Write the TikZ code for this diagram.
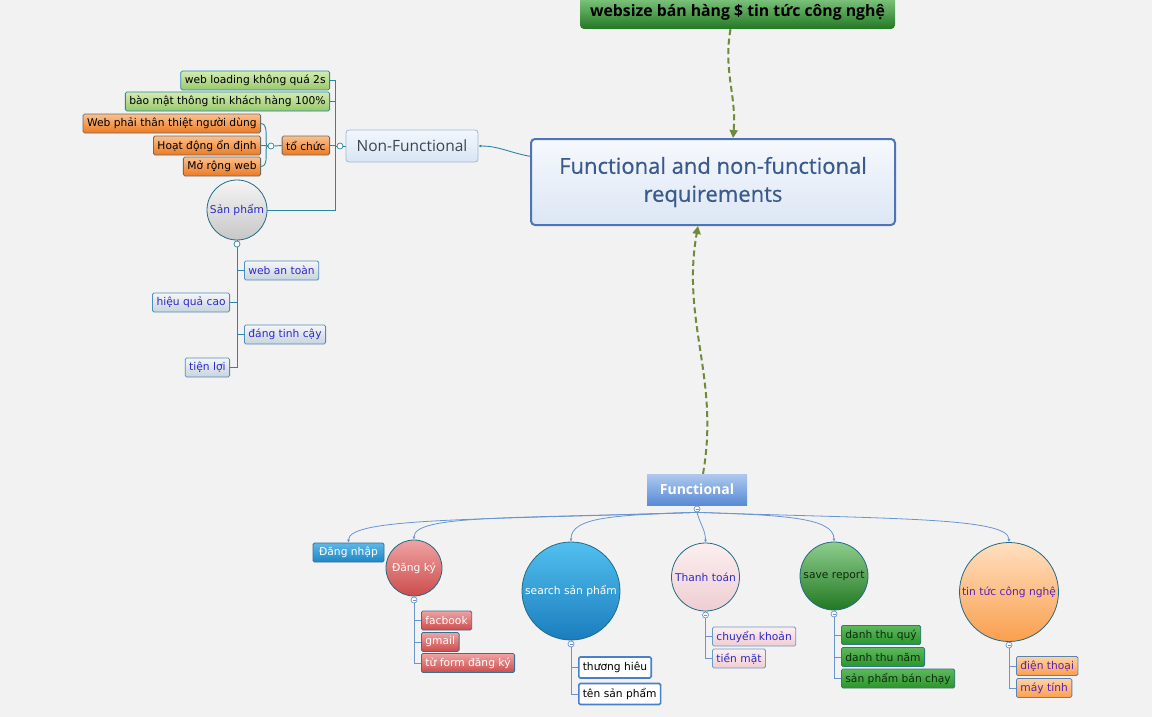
\documentclass[tikz,border=0pt]{standalone}
\usepackage{fontspec}
\setmainfont{DejaVu Sans}
\newfontfamily\headfont{Open Sans}
\newfontfamily\titlefont[FakeBold=0.6]{Open Sans}
\usetikzlibrary{arrows.meta}

\definecolor{bgcol}{HTML}{F2F2F2}
\definecolor{nfteal}{HTML}{2A86A6}
\definecolor{fblue}{HTML}{6A95CF}
\definecolor{linkgreen}{HTML}{6E8B3D}
\definecolor{ctrline}{HTML}{4E73B6}
\definecolor{ctrtext}{HTML}{3A5A8C}
\definecolor{ctrtop}{HTML}{F6F9FD}
\definecolor{ctrbot}{HTML}{DCE6F4}
\definecolor{labelblue}{HTML}{2B2BC8}
\definecolor{labelpurple}{HTML}{5A22B5}
\definecolor{limetop}{HTML}{D3ECB2}
\definecolor{limebot}{HTML}{98C86A}
\definecolor{ambertop}{HTML}{FBC08E}
\definecolor{amberbot}{HTML}{EC7A22}
\definecolor{amberline}{HTML}{6F6A66}
\definecolor{greytop}{HTML}{F4F6F9}
\definecolor{greybot}{HTML}{C9D2DD}
\definecolor{greyline}{HTML}{4F8FB5}
\definecolor{redtop}{HTML}{EFA3A3}
\definecolor{redbot}{HTML}{CC4C4C}
\definecolor{redline}{HTML}{3C6E8E}
\definecolor{whiteline}{HTML}{4A7FCC}
\definecolor{pinktop}{HTML}{FBEFF0}
\definecolor{pinkbot}{HTML}{EFCDD2}
\definecolor{pinkline}{HTML}{6A9AC8}
\definecolor{leaftop}{HTML}{5DB85D}
\definecolor{leafbot}{HTML}{2B962B}
\definecolor{leafline}{HTML}{2F7A7A}
\definecolor{leaftext}{HTML}{0F2A0F}
\definecolor{peachtop}{HTML}{FFD2A6}
\definecolor{peachbot}{HTML}{FA9F4E}
\definecolor{peachline}{HTML}{5A83B0}
\definecolor{skytop}{HTML}{5CB8E8}
\definecolor{skybot}{HTML}{1E87C7}
\definecolor{oceantop}{HTML}{52C0EF}
\definecolor{oceanbot}{HTML}{1A7DBE}
\definecolor{functop}{HTML}{AEC9EE}
\definecolor{funcbot}{HTML}{5A8BD5}
\definecolor{nftop}{HTML}{F3F7FC}
\definecolor{nfbot}{HTML}{D9E5F4}
\definecolor{nfborder}{HTML}{9DB8DC}
\definecolor{nftext}{HTML}{3A4454}

\tikzset{
  box/.style={rectangle, rounded corners=1.5pt, line width=0.8pt,
    inner xsep=4pt, inner ysep=0pt, minimum height=19pt,
    font=\fontsize{10.7}{12}\selectfont},
  ball/.style={circle, inner sep=0pt, draw=nfteal!80!black, line width=0.8pt,
    minimum size=#1, font=\fontsize{10.7}{12}\selectfont},
  knob/.style={circle, draw=#1, fill=white, inner sep=0pt,
    minimum size=6pt, line width=0.7pt},
  minusknob/.style={knob=#1, path picture={
      \draw[#1, line width=0.5pt] ([xshift=1.5pt]path picture bounding box.west)
        -- ([xshift=-1.5pt]path picture bounding box.east);}},
  % colour schemes of the topics
  limebox/.style={box, top color=limetop, bottom color=limebot, draw=nfteal, text=black},
  amberbox/.style={box, top color=ambertop, bottom color=amberbot, draw=amberline, text=black},
  greybox/.style={box, top color=greytop, bottom color=greybot, draw=greyline, text=labelblue},
  redbox/.style={box, top color=redtop, bottom color=redbot, draw=redline, text=white},
  whitebox/.style={box, fill=white, draw=whiteline, line width=1.6pt, minimum height=21pt, text=black},
  pinkbox/.style={box, top color=pinktop, bottom color=pinkbot, draw=pinkline, text=labelblue},
  leafbox/.style={box, top color=leaftop, bottom color=leafbot, draw=leafline, text=leaftext},
  peachbox/.style={box, top color=peachtop, bottom color=peachbot, draw=peachline, text=labelpurple},
  nfline/.style={draw=nfteal, line width=0.9pt},
  fline/.style={draw=fblue, line width=0.8pt},
  fdrop/.style={fline, -{Latex[length=3pt,width=3pt]}},
  linkarrow/.style={draw=linkgreen, line width=2pt, dash pattern=on 6pt off 3.5pt,
    -{Triangle[length=8pt,width=8pt]}},
}

\begin{document}
\begin{tikzpicture}[x=1pt, y=-1pt]

  \fill[bgcol] (0,0) rectangle (1152,717);
  \useasboundingbox (0,0) rectangle (1152,717);

  % Central topic and the two floating topics
  \node[rectangle, rounded corners=4pt, draw=ctrline, line width=2pt,
    top color=ctrtop, bottom color=ctrbot,
    minimum width=364pt, minimum height=86pt, align=center, text=ctrtext,
    font=\titlefont\fontsize{22}{28}\selectfont]
    (ctr) at (713,182) {Functional and non-functional\\requirements};
  \node[rectangle, rounded corners=4pt, top color=leaftop!75!white, bottom color=leafbot!80!black,
    minimum width=315pt, minimum height=33pt, text=black,
    font=\headfont\bfseries\fontsize{15.8}{18}\selectfont]
    (web) at (737.5,12.5) {websize bán hàng \$ tin tức công nghệ};
  \node[rectangle, top color=functop, bottom color=funcbot,
    minimum width=100pt, minimum height=31pt, text=white,
    font=\headfont\bfseries\fontsize{14}{16}\selectfont]
    (fn) at (697,489.5) {Functional};

  \draw[linkarrow] ([xshift=-7pt]web.south) to[out=-100, in=85] ([xshift=20pt]ctr.north);
  \draw[linkarrow] ([xshift=6pt]fn.north) to[out=80, in=-100] ([xshift=-15pt]ctr.south);

  % Non-Functional branch
  \node[box, rounded corners=3pt, minimum width=132pt, minimum height=32pt,
    top color=nftop, bottom color=nfbot, draw=nfborder,
    text=nftext, font=\headfont\fontsize{15.5}{18}\selectfont]
    (nf) at (412,146) {Non-Functional};
  \draw[nfline, -{Latex[length=3pt,width=3pt]}] (ctr.172) to[out=170, in=0] (nf.east);
  \node[knob=nfteal] (nfknob) at (340,146) {};
  \draw[nfline] (nf.west) -- (nfknob.east);

  \node[limebox, anchor=east] (wl) at (330,80.5) {web loading không quá 2s};
  \node[limebox, anchor=east] (bm) at (330,101.5) {bào mật thông tin khách hàng 100\%};
  \node[amberbox, anchor=east] (tc) at (330,145.5) {tổ chức};
  \node[ball=60pt, top color=white!96!black, bottom color=white!78!black, text=labelblue]
    (sp) at (237,210) {Sản phẩm};
  \foreach \name in {wl,bm,tc,sp}
    \draw[nfline] (nfknob.west) -- ++(-1.5,0) |- (\name.east);

  % tổ chức
  \node[knob=nfteal] (tcknob) at (271,146) {};
  \draw[nfline] (tc.west) -- (tcknob.east);
  \foreach \name/\txt/\y in {wp/Web phải thân thiệt người dùng/123.5,
                             hd/Hoạt động ổn định/145.5,
                             mr/Mở rộng web/166.5} {
    \node[amberbox, anchor=east] (\name) at (261,\y) {\txt};
    \draw[nfline] (tcknob.west) .. controls +(-4,0) and +(9,0) .. (\name.east);
  }

  % Sản phẩm
  \node[knob=nfteal] (spknob) at (237,244) {};
  \draw[nfline] (sp.south) -- (spknob.north);
  \foreach \name/\txt/\y in {wat/web an toàn/270.5, dtc/đáng tinh cậy/334.5} {
    \node[greybox, anchor=west] (\name) at (244,\y) {\txt};
    \draw[nfline] (spknob.south) |- (\name.west);
  }
  \foreach \name/\txt/\y in {hqc/hiệu quả cao/302.5, tl/tiện lợi/367.5} {
    \node[greybox, anchor=east] (\name) at (230,\y) {\txt};
    \draw[nfline] (spknob.south) |- (\name.east);
  }

  % Functional branch
  \node[minusknob=fblue] (fknob) at (697,509) {};
  \draw[fline] (fn.south) -- (fknob.north);

  \node[box, minimum width=71pt, top color=skytop, bottom color=skybot,
    draw=redline, text=white] (dn) at (348.5,552.5) {Đăng nhập};
  \node[ball=56pt, top color=redtop, bottom color=redbot, text=white] (dk) at (414,568) {Đăng ký};
  \node[ball=98pt, top color=oceantop, bottom color=oceanbot, text=white] (ss) at (571,591) {search sản phẩm};
  \node[ball=68pt, top color=pinktop, bottom color=pinkbot, text=labelblue] (tt) at (705.5,577) {Thanh toán};
  \node[ball=68pt, top color=leaftop!70!white, bottom color=leafbot!80!black, text=leaftext] (sr) at (834,576) {save report};
  \node[ball=99pt, top color=peachtop!70!white, bottom color=peachbot, text=labelpurple] (tn) at (1009,592) {tin tức công nghệ};

  \draw[fdrop] (fknob.south) to[out=182, in=90, out distance=220pt, in distance=25pt] (dn.north);
  \draw[fdrop] (fknob.south) to[out=182, in=90, out distance=180pt, in distance=25pt] (dk.north);
  \draw[fdrop] (fknob.south) to[out=182, in=90, out distance=80pt, in distance=25pt] (ss.north);
  \draw[fdrop] (fknob.south) to[out=-75, in=90] (tt.north);
  \draw[fdrop] (fknob.south) to[out=-2, in=90, out distance=80pt, in distance=25pt] (sr.north);
  \draw[fdrop] (fknob.south) to[out=-2, in=90, out distance=190pt, in distance=25pt] (tn.north);

  % Đăng ký
  \node[minusknob=fblue] (dkknob) at (414,600) {};
  \draw[fline] (dk.south) -- (dkknob.north);
  \foreach \name/\txt/\y in {fb/facbook/620.5, gm/gmail/642, tf/từ form đăng ký/663} {
    \node[redbox, anchor=west] (\name) at (421,\y) {\txt};
    \draw[fline] (dkknob.south) |- (\name.west);
  }

  % search sản phẩm
  \node[minusknob=fblue] (ssknob) at (571,644) {};
  \draw[fline] (ss.south) -- (ssknob.north);
  \foreach \name/\txt/\y in {th/thương hiêu/667.5, tsp/tên sản phẩm/694} {
    \node[whitebox, anchor=west] (\name) at (578,\y) {\txt};
    \draw[fline] (ssknob.south) |- (\name.west);
  }

  % Thanh toán
  \node[minusknob=fblue] (ttknob) at (705.5,615) {};
  \draw[fline] (tt.south) -- (ttknob.north);
  \foreach \name/\txt/\y in {ck/chuyển khoản/636.5, tm/tiền mặt/658.5} {
    \node[pinkbox, anchor=west] (\name) at (712,\y) {\txt};
    \draw[fline] (ttknob.south) |- (\name.west);
  }

  % save report
  \node[minusknob=fblue] (srknob) at (834,614) {};
  \draw[fline] (sr.south) -- (srknob.north);
  \foreach \name/\txt/\y in {dtq/danh thu quý/635, dtn/danh thu năm/657, spbc/sản phẩm bán chạy/678.5} {
    \node[leafbox, anchor=west] (\name) at (841,\y) {\txt};
    \draw[fline] (srknob.south) |- (\name.west);
  }

  % tin tức công nghệ
  \node[minusknob=fblue] (tnknob) at (1009,645) {};
  \draw[fline] (tn.south) -- (tnknob.north);
  \foreach \name/\txt/\y in {dt/điện thoại/666, mt/máy tính/688} {
    \node[peachbox, anchor=west] (\name) at (1016,\y) {\txt};
    \draw[fline] (tnknob.south) |- (\name.west);
  }

\end{tikzpicture}
\end{document}
